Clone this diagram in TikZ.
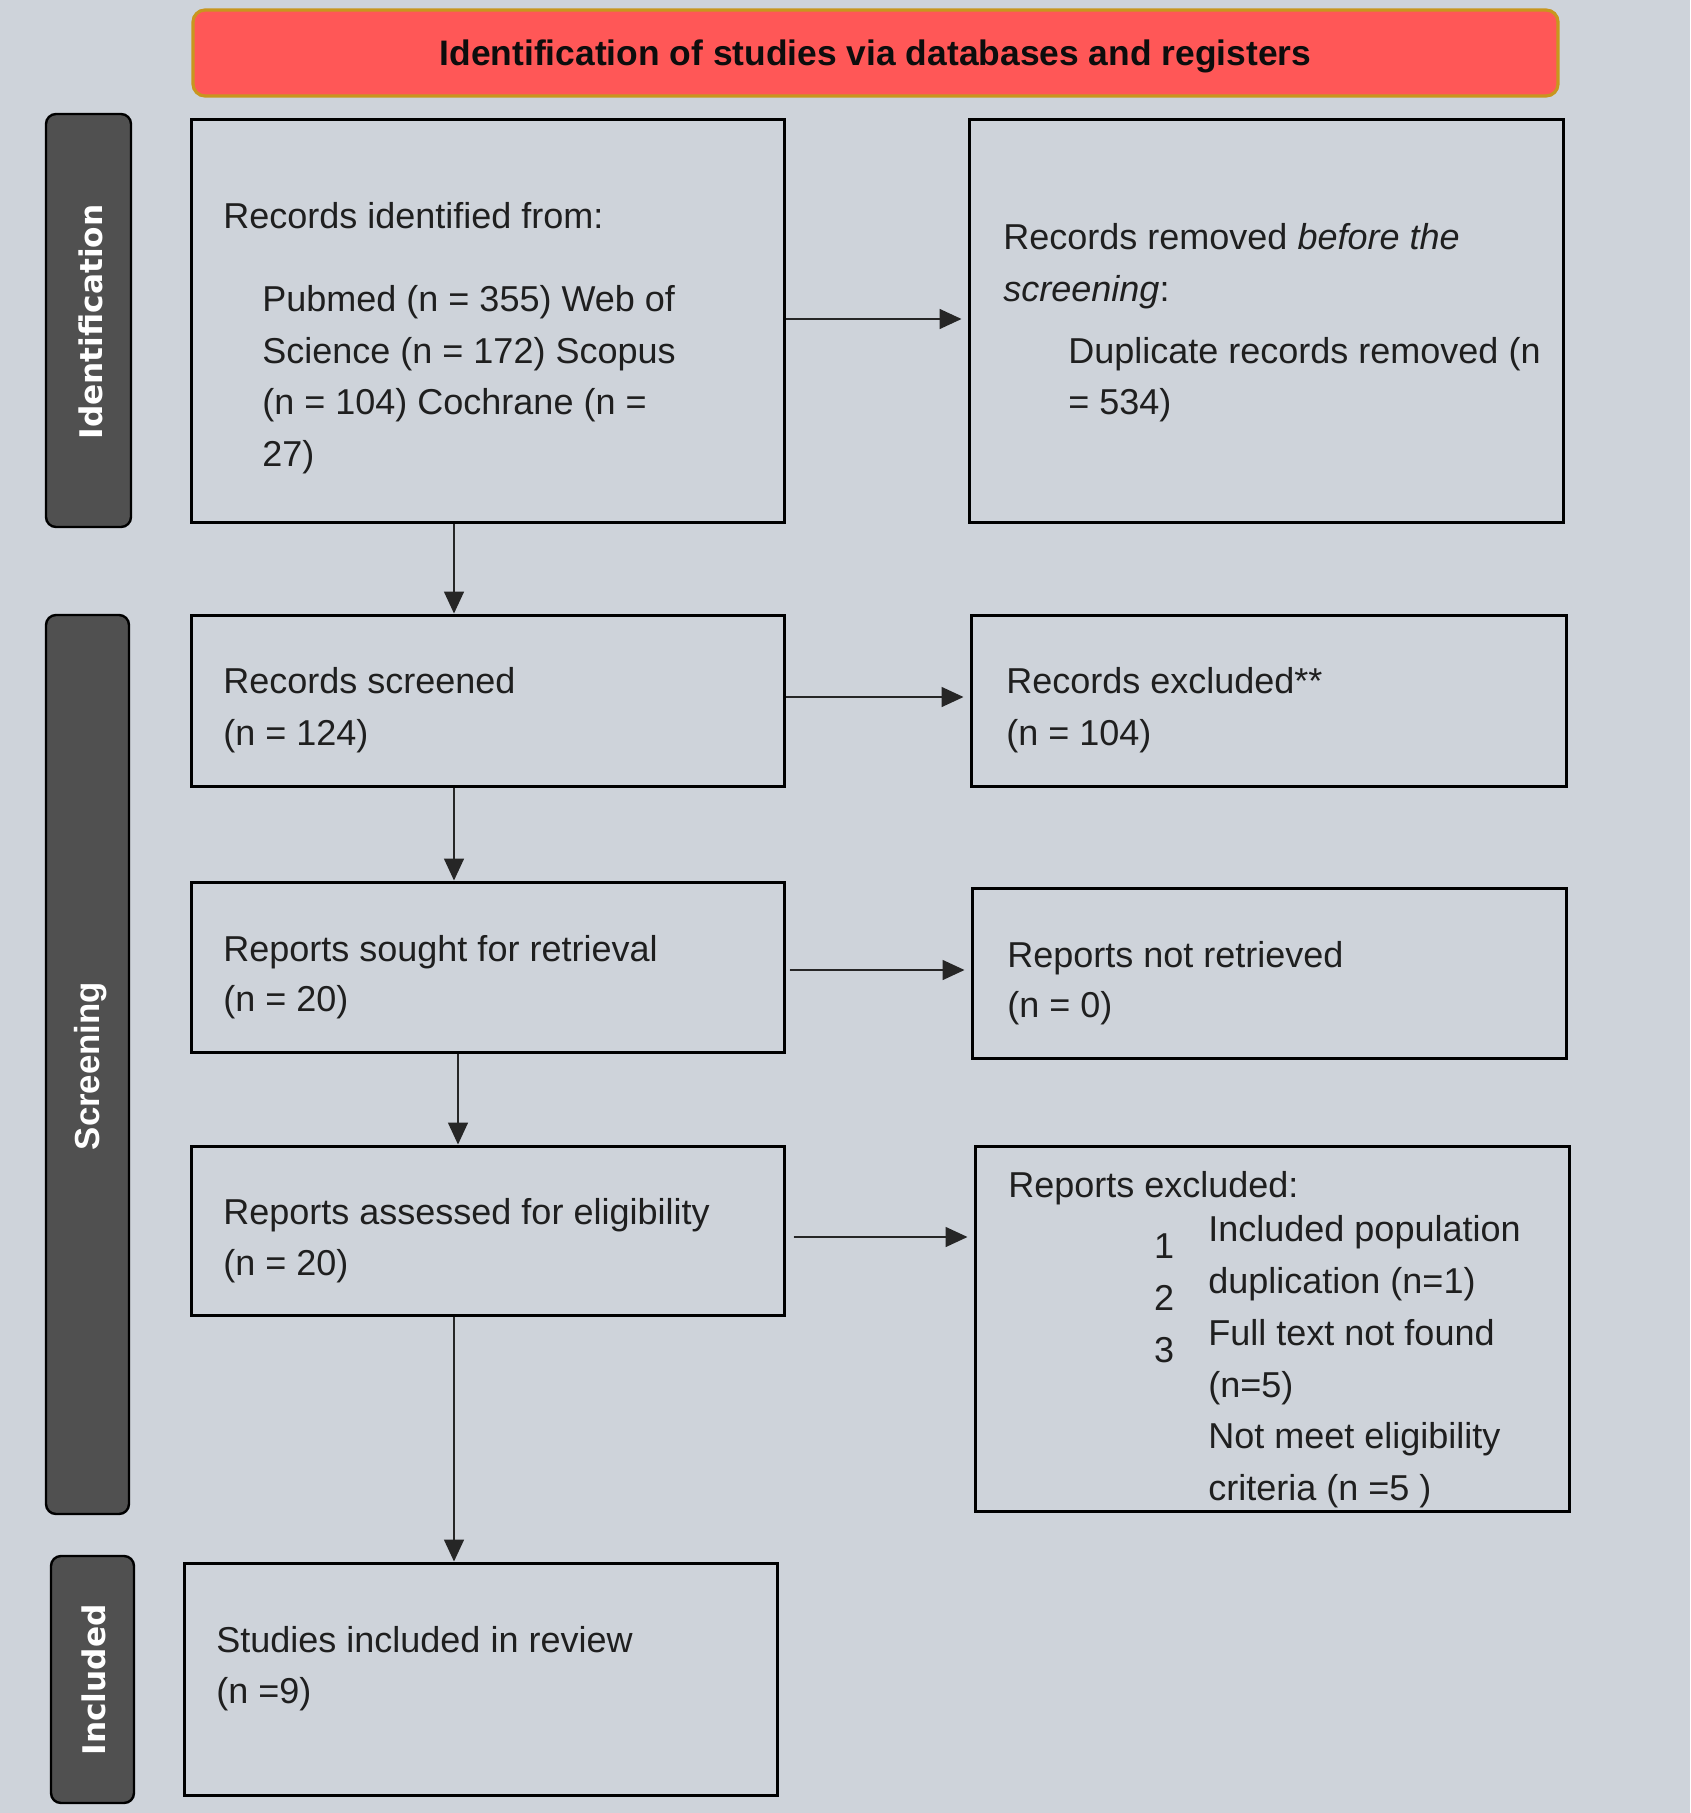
\documentclass[tikz,border=0pt]{standalone}
\usepackage{fontspec}
\setmainfont{Liberation Sans}
\newfontfamily\dejav{DejaVu Sans}
\usetikzlibrary{arrows.meta,fit}
\definecolor{bgc}{HTML}{CED3DA}
\definecolor{hdrc}{HTML}{FF5757}
\definecolor{hdrb}{HTML}{C8961E}
\definecolor{sidec}{HTML}{505050}
\begin{document}
\begin{tikzpicture}[x=0.5pt,y=-0.5pt,
  box/.style={draw=black,line width=1.5pt,inner sep=0pt},
  sidebox/.style={draw=black,line width=1.2pt,fill=sidec,rounded corners=5pt,inner sep=0pt},
  txt/.style={anchor=base west,inner sep=0pt,font=\fontsize{18}{22}\selectfont,text=black!88},
  num/.style={anchor=base,inner sep=0pt,font=\fontsize{18}{22}\selectfont,text=black!88},
  arr/.style={-{Triangle[length=11pt,width=10pt]},line width=0.8pt,draw=black!85,fill=black},
  sidetxt/.style={rotate=90,text=white,inner sep=0pt}]
\useasboundingbox (0,0) rectangle (1690,1813);
\fill[bgc] (0,0) rectangle (1690,1813);

% header
\node[draw=hdrb,fill=hdrc,line width=1.6pt,rounded corners=6pt,inner sep=0pt,
  minimum width=682.5pt,minimum height=43pt,text height=12.7pt,text depth=0pt,
  font=\fontsize{17.7}{20}\selectfont\bfseries,text=black!95]
  (hdr) at (875.5,53) {Identification of studies via databases and registers};

% side labels
\node[sidebox,fit={(46,114)(131,527)}] (sid) {};
\node[sidetxt,font=\dejav\bfseries\fontsize{15.6}{18}\selectfont] (sidt) at (91,322) {Identification};
\node[sidebox,fit={(46,615)(129,1514)}] (sscr) {};
\node[sidetxt,font=\fontsize{17.4}{20}\selectfont\bfseries] (sscrt) at (91,1066) {Screening};
\node[sidebox,fit={(51,1556)(134,1803)}] (sinc) {};
\node[sidetxt,font=\dejav\bfseries\fontsize{15.6}{18}\selectfont] (sinct) at (94,1680) {Included};

% boxes
\node[box,fit={(191,120)(784,522)}] (ident) {};
\node[box,fit={(969,120)(1563,522)}] (removed) {};
\node[box,fit={(191,615)(784,786)}] (screened) {};
\node[box,fit={(971,615)(1566,786)}] (excl) {};
\node[box,fit={(191,882)(784,1052)}] (sought) {};
\node[box,fit={(972,888)(1566,1058)}] (notret) {};
\node[box,fit={(191,1146)(784,1315)}] (assess) {};
\node[box,fit={(975,1146)(1569,1511)}] (rexcl) {};
\node[box,fit={(184,1563)(777,1795)}] (incl) {};

% texts
\node[txt] (t1a) at (223,229) {Records identified from:};
\node[txt] (t1b) at (262,312) {Pubmed (n = 355) Web of};
\node[txt] (t1c) at (262,364) {Science (n = 172) Scopus};
\node[txt] (t1d) at (262,415) {(n = 104) Cochrane (n =};
\node[txt] (t1e) at (262,466) {27)};

\node[txt] (t2a) at (1003,250) {Records removed \textit{before the}};
\node[txt] (t2b) at (1003,302) {\textit{screening}:};
\node[txt] (t2c) at (1068,364) {Duplicate records removed (n};
\node[txt] (t2d) at (1068,415) {= 534)};

\node[txt] (t3a) at (223,693) {Records screened};
\node[txt] (t3b) at (223,745) {(n = 124)};
\node[txt] (t4a) at (1006,693) {Records excluded**};
\node[txt] (t4b) at (1006,745) {(n = 104)};

\node[txt] (t5a) at (223,961) {Reports sought for retrieval};
\node[txt] (t5b) at (223,1011) {(n = 20)};
\node[txt] (t6a) at (1007,967) {Reports not retrieved};
\node[txt] (t6b) at (1007,1017) {(n = 0)};

\node[txt] (t7a) at (223,1224) {Reports assessed for eligibility};
\node[txt] (t7b) at (223,1275) {(n = 20)};

\node[txt] (t8a) at (1008,1197) {Reports excluded:};
\node[num] (n1) at (1164,1258) {1};
\node[num] (n2) at (1164,1310) {2};
\node[num] (n3) at (1164,1362) {3};
\node[txt] (t8b) at (1208,1241) {Included population};
\node[txt] (t8c) at (1208,1293) {duplication (n=1)};
\node[txt] (t8d) at (1208,1345) {Full text not found};
\node[txt] (t8e) at (1208,1397) {(n=5)};
\node[txt] (t8f) at (1208,1448) {Not meet eligibility};
\node[txt] (t8g) at (1208,1500) {criteria (n =5 )};

\node[txt] (t9a) at (216,1652) {Studies included in review};
\node[txt] (t9b) at (216,1703) {(n =9)};

% connectors
\coordinate (vx) at (454,0);
\coordinate (vx2) at (458,0);
\coordinate (h1) at (0,319);
\coordinate (h2) at (0,697);
\coordinate (h3) at (0,970);
\coordinate (h4) at (0,1237);
\draw[arr,shorten >=3pt] (ident.east |- h1) -- (removed.west |- h1);
\draw[arr,shorten >=3pt] (screened.east |- h2) -- (excl.west |- h2);
\draw[arr,shorten <=2pt,shorten >=3pt] (sought.east |- h3) -- (notret.west |- h3);
\draw[arr,shorten <=4pt,shorten >=3pt] (assess.east |- h4) -- (rexcl.west |- h4);
\draw[arr] (ident.south -| vx) -- (screened.north -| vx);
\draw[arr] (screened.south -| vx) -- (sought.north -| vx);
\draw[arr] (sought.south -| vx2) -- (assess.north -| vx2);
\draw[arr] (assess.south -| vx) -- (incl.north -| vx);
\end{tikzpicture}
\end{document}
